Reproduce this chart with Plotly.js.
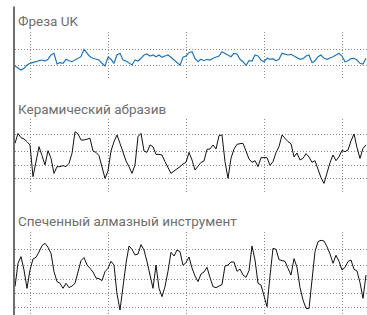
<!DOCTYPE html>
<html>
<head>
<meta charset="utf-8">
<script src="https://cdn.plot.ly/plotly-3.0.1.min.js"></script>
<style>html,body{margin:0;padding:0;background:#fff;}#chart{width:367px;height:315px;}</style>
</head>
<body>
<div id="chart"></div>
<script>
// Panel titles
const titles = ["Фреза UK", "Керамический абразив", "Спеченный алмазный инструмент"];

// Series values (arbitrary units)
const frezaUK = [13,10.7,9,10.7,14,15.7,16.3,17.3,18.3,19,18,19.7,24,25.7,15,16.3,15.7,19.7,18.3,17.3,19,20.7,22.3,29.7,25.7,22.3,20.7,19.7,19,15.7,13,21.7,19.7,15.7,24,25.7,19,18,16.3,14,19,18,20.7,24,25,23,24,22.3,24,21.7,23,24,21.7,19,15.7,13.7,21.7,
  23,26.3,27.3,20.7,17.3,19.7,18.3,19.7,19,20.7,21.7,23,27.3,25.7,24,22.3,25.7,25,19.7,17.3,13.7,18.3,18,24,23,19,17.3,20.7,19.7,20.3,18.3,19.7,25.7,25,24,24.7,23,20.7,19.7,20.3,23,24,16.3,18.3,22.3,24,20.7,19.7,20.7,22.3,24,25.7,23,17.3,18.3,20.3,20.7,19,15.7,15,20.7];

const keramAbraziv = [49.3,59.3,55,53.7,51,47.7,16,29.3,46,37,27.7,42,34.3,19.3,26,26,27,26,29.3,39.3,61,58.7,52.7,52.7,53.7,54.3,41.7,40.3,37,26,14.3,21.7,41.7,51,57.7,49.3,40.3,31.7,26,19.3,27.7,56,59.3,41.7,40.3,47.7,46,38.3,38.3,37.7,31,24.3,19.3,21.7,23.7,26,28.7,
  30.3,40.3,32.7,22.7,26,30.3,31.7,43.3,43.7,47.7,43.7,57,57.7,31,14.3,34.3,43.7,48.3,49,49.3,41.7,33.7,30.3,32,26,35,35,35,27.3,31,40,46,57.7,54.3,51,49,35.7,39.7,32.7,34.3,39,35.7,30.3,32,22.7,15,9.3,20.3,30,37.7,32,36,42.3,41,42.7,51.7,58.7,45,34.3,44.3,47.7];

const spechAlmaz = [20.7,44,50.7,37.3,19,37.3,48.3,50,55.3,61.7,64,60,54,35.7,25.7,24,19,24,19.7,21.3,24,36.7,46.7,49.7,42.3,39,35.3,29.3,28.7,26.7,35.7,39,46,42.3,13.3,-2.7,22.3,44,61.3,58,52.3,53.3,62.7,57.3,45.7,30.7,19,42.3,19,10.7,20.7,36,55,51.3,57.3,55.7,42,
  44.7,50.3,39.3,31.3,25.7,33.3,35.3,40,29.7,20.7,19.7,21.3,22.7,41.3,42.3,45.3,45.3,36,38.3,32.3,30,36.7,61.3,47.3,24,22.3,10,0.7,31.3,59,58,47.7,46.7,46,39,32.3,48.7,40,19.7,7.3,-1,-1.3,27.3,55.7,65.7,67,66.3,60.7,53.3,44,52,46,37.3,40,45.7,47.3,38,36.3,24.7,9,32.3];

// Tick (gridline) values
const xTicks = [5, 31, 57, 83, 109];
const yTicks1 = [0, 13.7, 30, 46.7];
const yTicks2 = [0, 13.7, 27, 41, 57.7, 73.7];
const yTicks3 = [0, 14, 28.3, 41.7, 58.3, 75];

const idx = arr => arr.map((_, i) => i);

const traces = [
  {x: idx(frezaUK), y: frezaUK, xaxis: 'x', yaxis: 'y', type: 'scatter', mode: 'lines',
   line: {color: '#1f77c0', width: 1.2}, hoverinfo: 'skip'},
  {x: idx(keramAbraziv), y: keramAbraziv, xaxis: 'x2', yaxis: 'y2', type: 'scatter', mode: 'lines',
   line: {color: '#111', width: 1}, hoverinfo: 'skip'},
  {x: idx(spechAlmaz), y: spechAlmaz, xaxis: 'x3', yaxis: 'y3', type: 'scatter', mode: 'lines',
   line: {color: '#111', width: 1}, hoverinfo: 'skip'}
];

const gridColor = '#8a8a8a';
const gridDash = '1px,2px';
function xa(anchor) {
  return {anchor: anchor, domain: [0, 1], range: [0, 117.33], tickmode: 'array', tickvals: xTicks,
    showticklabels: false, ticks: '', showgrid: true, gridcolor: gridColor, griddash: gridDash, gridwidth: 1,
    zeroline: false, showline: false, fixedrange: true};
}
function ya(anchor, dom, rng, tv) {
  return {anchor: anchor, domain: dom, range: rng, tickmode: 'array', tickvals: tv,
    showticklabels: false, ticks: '', showgrid: true, gridcolor: gridColor, griddash: gridDash, gridwidth: 1,
    zeroline: false, showline: false, fixedrange: true};
}

const titleFont = {family: 'Roboto, sans-serif', size: 13.5, color: '#6e6e6e'};

const layout = {
  width: 367, height: 315,
  margin: {l: 15, r: 0, t: 0, b: 0},
  paper_bgcolor: '#fff', plot_bgcolor: 'rgba(0,0,0,0)',
  showlegend: false,
  xaxis: xa('y'), xaxis2: xa('y2'), xaxis3: xa('y3'),
  yaxis: ya('x', [1 - 79.5/315, 1 - 31.5/315], [-0.5, 47.5], yTicks1),
  yaxis2: ya('x2', [1 - 193.2/315, 1 - 118.5/315], [-0.53, 74.17], yTicks2),
  yaxis3: ya('x3', [0, 1 - 231.8/315], [-7.67, 75.5], yTicks3),
  annotations: [
    {text: titles[0], xref: 'paper', yref: 'paper', x: 0.002, y: 1 - 21.5/315, xanchor: 'left', yanchor: 'middle', showarrow: false, font: titleFont},
    {text: titles[1], xref: 'paper', yref: 'paper', x: 0.002, y: 1 - 108.5/315, xanchor: 'left', yanchor: 'middle', showarrow: false, font: titleFont},
    {text: titles[2], xref: 'paper', yref: 'paper', x: 0.002, y: 1 - 221.3/315, xanchor: 'left', yanchor: 'middle', showarrow: false, font: titleFont}
  ],
  shapes: [
    {type: 'line', xref: 'paper', yref: 'paper', x0: -1/352, x1: -1/352, y0: 0, y1: 1 - 6.5/315,
     line: {color: '#4a4a4a', width: 1.6}}
  ]
};

Plotly.newPlot('chart', traces, layout, {displayModeBar: false, staticPlot: true});
</script>
</body>
</html>
